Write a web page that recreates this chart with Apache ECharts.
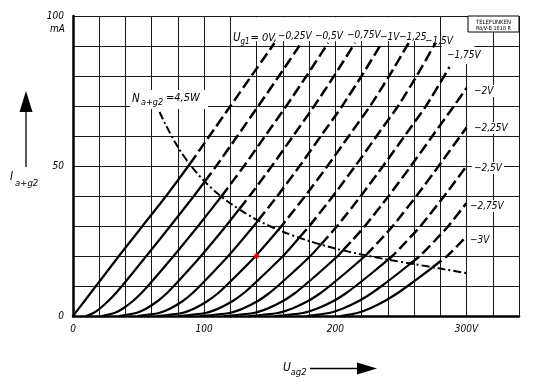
<!DOCTYPE html>
<html><head><meta charset="utf-8">
<script src="https://cdn.jsdelivr.net/npm/echarts@6/dist/echarts.min.js"></script>
<style>html,body{margin:0;padding:0;background:#fff}#c{width:544px;height:385px}</style>
</head><body><div id="c"></div>
<script>
// ---- data (Uag2 in V, Ia+g2 in mA) ----
const curve_0V    = [[0,0],[8.8,5],[17.5,10],[26.3,15],[35,20],[44,25],[53,30],[71,40],[88,50],[104,60],[120,70],[136,80],[152,90],[153.5,91]];
const curve_m025V = [[10,0],[15.6,1],[20.5,2.5],[26.9,5],[32.4,7.5],[37.3,10],[46.7,15],[55.9,20],[65.1,25],[74.2,30],[92.2,40],[109.2,50],[125.3,60],[141.3,70],[157,80],[172.5,90],[174,91]];
const curve_m05V  = [[22,0],[31.6,1],[38.1,2.5],[45.7,5],[51.8,7.5],[57.1,10],[67,15],[76.7,20],[86.1,25],[95.4,30],[113.4,40],[130.4,50],[146.5,60],[162.6,70],[178,80],[193,90],[194.5,91]];
const curve_m075V = [[35,0],[48.2,1],[56,2.5],[64.6,5],[71.3,7.5],[76.9,10],[87.4,15],[97.6,20],[107.2,25],[116.6,30],[134.6,40],[151.6,50],[167.8,60],[183.9,70],[199,80],[213.5,90],[215,91]];
const curve_m1V   = [[49,0],[65.5,1],[74.2,2.5],[83.7,5],[90.8,7.5],[96.7,10],[107.7,15],[118.4,20],[128.2,25],[137.8,30],[155.8,40],[172.8,50],[189,60],[205.2,70],[220,80],[234,90],[235.5,91]];
const curve_m125V = [[64,0],[83,1],[92.5,2.5],[102.6,5],[110.3,7.5],[116.5,10],[128.1,15],[139.3,20],[149.3,25],[159,30],[177,40],[194,50],[210.3,60],[226.5,70],[241,80],[254.5,90],[256,91]];
const curve_m15V  = [[80,0],[100.9,1],[111,2.5],[121.8,5],[129.8,7.5],[136.3,10],[148.4,15],[160.1,20],[170.3,25],[180.2,30],[198.2,40],[215.2,50],[231.5,60],[247.8,70],[262,80],[275,90],[276.5,91]];
const curve_m175V = [[97,0],[119,1],[129.6,2.5],[140.9,5],[149.2,7.5],[156.1,10],[168.8,15],[181,20],[191.4,25],[201.4,30],[219.4,40],[236.4,50],[252.8,60],[269.1,70],[283,80],[287,83]];
const curve_m2V   = [[115,0],[137.5,1],[148.4,2.5],[160.1,5],[168.8,7.5],[175.9,10],[189.1,15],[201.8,20],[212.4,25],[222.6,30],[240.6,40],[257.6,50],[274,60],[290.4,70],[300,76]];
const curve_m225V = [[134,0],[156,1],[167.2,2.5],[179.2,5],[188.2,7.5],[195.7,10],[209.5,15],[222.7,20],[233.5,25],[243.8,30],[261.8,40],[278.8,50],[295.3,60],[300,62.8]];
const curve_m25V  = [[154,0],[175.1,1],[186.3,2.5],[198.6,5],[207.8,7.5],[215.5,10],[229.8,15],[243.5,20],[254.5,25],[265,30],[283,40],[300,50]];
const curve_m275V = [[178,0],[195.3,1],[205.8,2.5],[217.9,5],[227.3,7.5],[235.3,10],[250.2,15],[264.4,20],[275.6,25],[286.2,30],[300,37.7]];
const curve_m3V   = [[204,0],[216.8,1],[226.2,2.5],[237.7,5],[247,7.5],[255.1,10],[270.5,15],[285.2,20],[296.6,25],[300,26.5]];

// power hyperbola Na+g2 = 4,5 W
const hypV = [66, 70, 80, 90, 100, 110, 120, 140, 160, 180, 200, 220, 240, 260, 280, 300];
const hypI = [68, 64.3, 56.3, 50, 45, 40.9, 37.5, 32.1, 28.1, 25, 22.5, 20.5, 18.8, 17.3, 15.8, 14.3];

// marked operating point
const redPoint = [[140, 20]];

// tick labels
const xTickValues = [0, 100, 200, 300];
const xTickTexts  = ['0', '100', '200', '300V'];
const yTickValues = [0, 50, 100];
const yTickTexts  = ['0', '50', '100'];

const curveLabels = ['= 0V,', '−0,25V', '−0,5V', '−0,75V', '−1V', '−1,25', '−1,5V', '−1,75V', '−2V', '−2,25V', '−2,5V', '−2,75V', '−3V'];

// ---- build ----
const FONT = '"Liberation Sans Narrow","DejaVu Sans Condensed","Liberation Sans",sans-serif';
const curves = [curve_0V, curve_m025V, curve_m05V, curve_m075V, curve_m1V, curve_m125V, curve_m15V,
                curve_m175V, curve_m2V, curve_m225V, curve_m25V, curve_m275V, curve_m3V];

function hypAt(v) {
  if (v < hypV[0]) return Infinity;
  for (let i = 0; i < hypV.length - 1; i++) {
    if (v <= hypV[i + 1]) {
      const t = (v - hypV[i]) / (hypV[i + 1] - hypV[i]);
      return hypI[i] + t * (hypI[i + 1] - hypI[i]);
    }
  }
  return hypI[hypI.length - 1];
}
function splitCurve(pts) {
  const solid = [pts[0]], dashed = [];
  for (let i = 1; i < pts.length; i++) {
    const a = pts[i - 1], b = pts[i];
    if (dashed.length) { dashed.push(b); continue; }
    if (b[1] > hypAt(b[0])) {
      let lo = 0, hi = 1;
      for (let n = 0; n < 40; n++) {
        const m = (lo + hi) / 2;
        const v = a[0] + m * (b[0] - a[0]), c = a[1] + m * (b[1] - a[1]);
        if (c > hypAt(v)) hi = m; else lo = m;
      }
      const p = [a[0] + hi * (b[0] - a[0]), a[1] + hi * (b[1] - a[1])];
      solid.push(p); dashed.push(p, b);
    } else solid.push(b);
  }
  return { solid, dashed };
}

const series = [];
series.push({
  type: 'line', data: [[0, 0]], symbol: 'none', lineStyle: { opacity: 0 }, z: 1, silent: true,
  markArea: { silent: true, itemStyle: { color: '#fff' },
    data: [[{ coord: [121, 91.6] }, { coord: [279, 99.6] }], [{ coord: [281, 84] }, { coord: [306, 99.6] }]] }
});
curves.forEach(c => {
  const s = splitCurve(c);
  series.push({ type: 'line', data: s.solid, showSymbol: false, smooth: 0.25, z: 3, silent: true,
    lineStyle: { color: '#000', width: 2.2 } });
  if (s.dashed.length) series.push({ type: 'line', data: s.dashed, showSymbol: false, smooth: 0.2, z: 3, silent: true,
    lineStyle: { color: '#000', width: 2.5, type: [11, 4.5] } });
});
series.push({ type: 'line', data: hypV.map((v, i) => [v, hypI[i]]), showSymbol: false, smooth: 0.3, z: 4, silent: true,
  lineStyle: { color: '#000', width: 2, type: [8, 3, 2, 3] } });
series.push({ type: 'scatter', data: redPoint, symbolSize: 5.5, itemStyle: { color: '#ff0000' }, z: 6, silent: true });

function txt(x, y, text, size, opts) {
  return { type: 'text', x: x, y: y, z: 100, silent: true,
    style: Object.assign({ text: text, font: 'italic ' + size + 'px ' + FONT, fill: '#000',
      textAlign: 'left', textVerticalAlign: 'middle', align: 'left', verticalAlign: 'middle' }, opts || {}) };
}
const bg = { backgroundColor: '#fff', padding: [1, 2] };
const labelPos = [[250.5, 38], [278, 36], [315, 36], [347, 35], [380, 37], [399, 37], [425, 41], [445, 55],
                  [472, 91], [472, 128], [472, 168], [468, 206], [468, 240]];
const graphics = [
  txt(65, 29, 'mA', 10, { textAlign: 'right', align: 'right' }),
  { type: 'polygon', z: 100, shape: { points: [[26, 91], [19.5, 112], [32.5, 112]] }, style: { fill: '#000' } },
  { type: 'line', z: 100, shape: { x1: 26, y1: 111, x2: 26, y2: 167 }, style: { stroke: '#000', lineWidth: 1.3 } },
  txt(10, 177, 'I', 12), txt(15, 184, 'a+g2', 9.5),
  { type: 'line', z: 100, shape: { x1: 310, y1: 368.5, x2: 358, y2: 368.5 }, style: { stroke: '#000', lineWidth: 1.3 } },
  { type: 'polygon', z: 100, shape: { points: [[377, 368.5], [357, 362.5], [357, 374.5]] }, style: { fill: '#000' } },
  txt(283, 367.5, 'U', 12), txt(290.5, 372.5, 'ag2', 9.5),
  { type: 'rect', z: 99, shape: { x: 130, y: 90, width: 78, height: 19 }, style: { fill: '#fff' } },
  txt(132, 99.5, 'N', 11.5), txt(141, 103, 'a+g2', 9), txt(166, 98.5, '=4,5W', 11),
  { type: 'rect', z: 99, shape: { x: 468, y: 16, width: 51, height: 16 }, style: { fill: '#fff', stroke: '#000', lineWidth: 1 } },
  txt(493.5, 22, 'TELEFUNKEN', 6, { textAlign: 'center', align: 'center', font: '6px ' + FONT }),
  txt(493.5, 28.5, 'Rö/V-B 1618 R', 5.5, { textAlign: 'center', align: 'center', font: '5.5px ' + FONT }),
  txt(233, 38, 'U', 11.5), txt(240.5, 42, 'g1', 8)
];
curveLabels.forEach((t, i) => {
  const p = labelPos[i];
  graphics.push(txt(p[0], p[1], t, i === 0 ? 11 : 10, i >= 7 ? bg : {}));
});

const chart = echarts.init(document.getElementById('c'), null, { renderer: 'canvas' });
chart.setOption({
  animation: false,
  backgroundColor: '#fff',
  grid: { left: 73, right: 25, top: 16, bottom: 69, containLabel: false },
  xAxis: {
    type: 'value', min: 0, max: 340, interval: 20,
    axisLine: { show: true, onZero: false, lineStyle: { color: '#000', width: 2.5 } },
    axisTick: { show: false },
    splitLine: { show: true, lineStyle: { color: '#1a1a1a', width: 1 } },
    axisLabel: { margin: 8, color: '#000', fontStyle: 'italic', fontFamily: FONT, fontSize: 10,
      formatter: v => { const i = xTickValues.indexOf(v); return i >= 0 ? xTickTexts[i] : ''; } }
  },
  yAxis: {
    type: 'value', min: 0, max: 100, interval: 10,
    axisLine: { show: true, onZero: false, lineStyle: { color: '#000', width: 2.5 } },
    axisTick: { show: false },
    splitLine: { show: true, lineStyle: { color: '#1a1a1a', width: 1 } },
    axisLabel: { margin: 9, color: '#000', fontStyle: 'italic', fontFamily: FONT, fontSize: 10,
      formatter: v => { const i = yTickValues.indexOf(v); return i >= 0 ? yTickTexts[i] : ''; } }
  },
  graphic: graphics,
  series: series
});
</script>
</body></html>
